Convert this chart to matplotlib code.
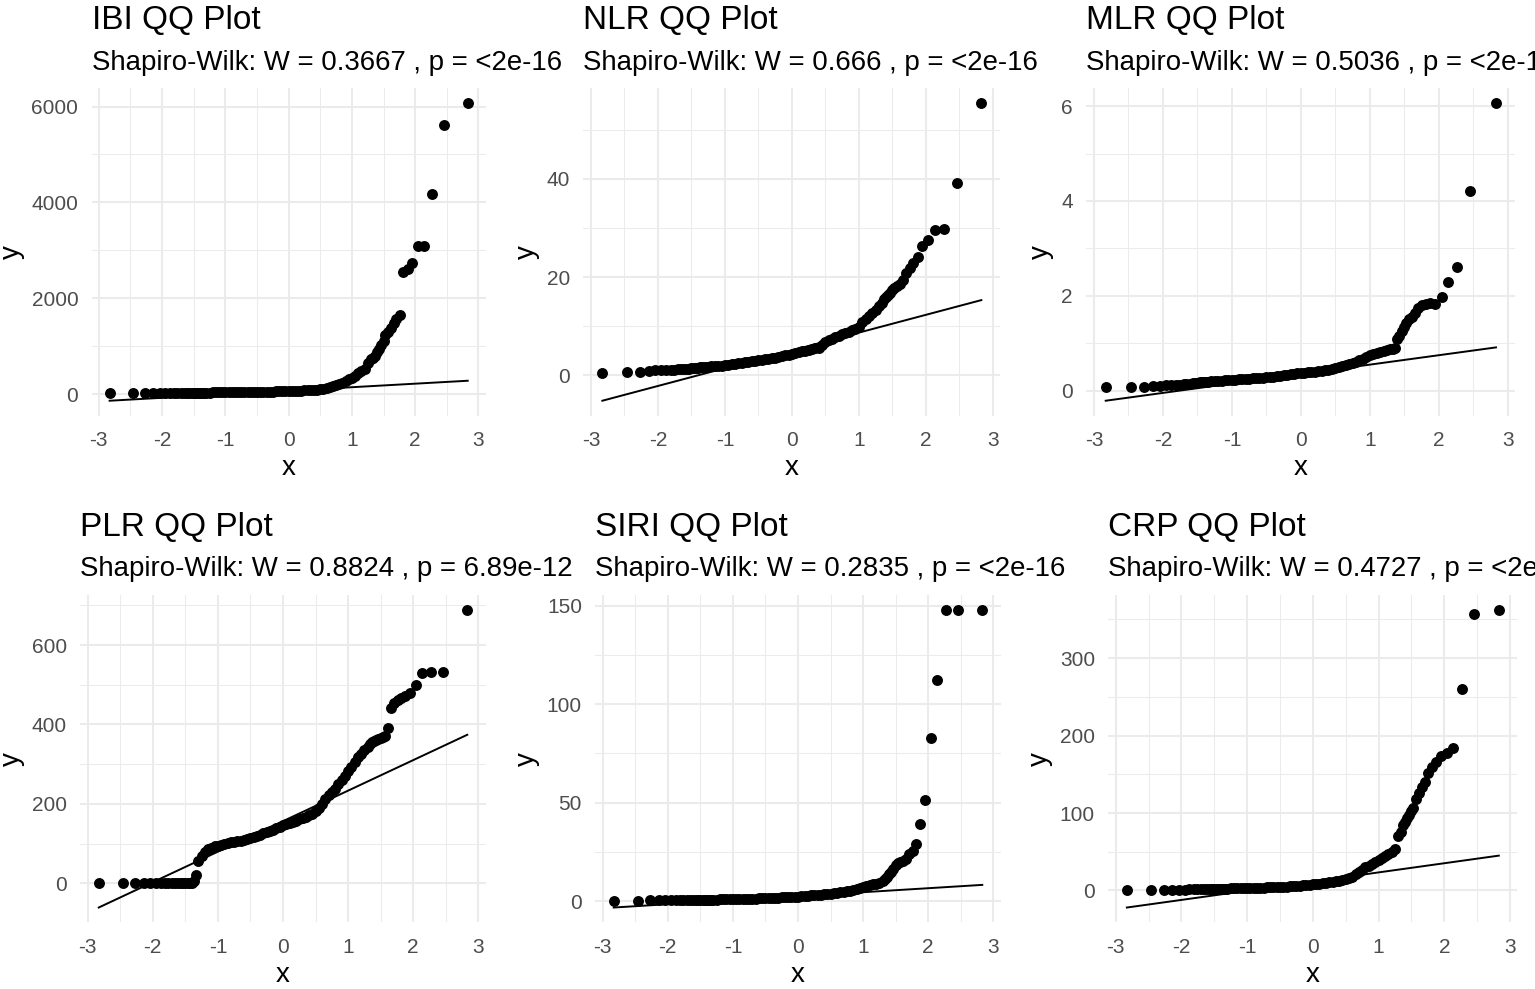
import matplotlib
matplotlib.use("Agg")
import matplotlib.pyplot as plt
from matplotlib.ticker import MultipleLocator

plt.rcParams['font.family'] = ['Liberation Sans', 'DejaVu Sans']
plt.rcParams['axes.unicode_minus'] = False

# ---------------- data ----------------
# theoretical normal quantiles (shared by all panels)
theo_x = [-2.83, -2.46, -2.27, -2.14, -2.04, -1.95, -1.88, -1.81, -1.76, -1.70,
          -1.66, -1.61, -1.57, -1.53, -1.50, -1.46, -1.43, -1.40, -1.37, -1.34,
          -1.30, -1.25, -1.20, -1.15, -1.10, -1.05, -1.00, -0.95, -0.90, -0.85,
          -0.80, -0.75, -0.70, -0.65, -0.60, -0.55, -0.50, -0.45, -0.40, -0.35,
          -0.30, -0.25, -0.20, -0.15, -0.10, -0.05, 0.00, 0.05, 0.10, 0.15,
          0.20, 0.25, 0.30, 0.35, 0.40, 0.45, 0.50, 0.55, 0.60, 0.65,
          0.70, 0.75, 0.80, 0.85, 0.90, 0.95, 1.00, 1.05, 1.10, 1.15,
          1.20, 1.25, 1.30,
          1.34, 1.37, 1.40, 1.43, 1.46, 1.50, 1.53, 1.57, 1.61, 1.66,
          1.70, 1.76, 1.81, 1.88, 1.95, 2.04, 2.14, 2.27, 2.46, 2.83]

ibi_y = [15, 18, 20, 22, 22, 23, 24, 25, 25, 26, 26, 27, 27, 28, 28, 28, 29, 29, 30, 30,
         31, 32, 33, 34, 35, 36, 37, 38, 39, 40, 41, 42, 43, 44, 45, 46, 47, 48, 49, 50,
         51, 53, 54, 56, 58, 60, 62, 64, 66, 69, 72, 75, 79, 83, 88, 94, 100,
         110, 122, 140, 160, 185, 210, 240, 275, 310, 345, 385, 430, 475, 530, 640, 730,
         760, 800, 880, 940, 1020, 1100, 1230, 1290, 1370, 1480, 1560, 1640,
         2558, 2607, 2732, 3080, 3100, 4171, 5617, 6069]

nlr_y = [0.5, 0.7, 0.7, 0.9, 1.0, 1.0, 1.05, 1.1, 1.15, 1.2, 1.2, 1.25, 1.3, 1.35, 1.4,
         1.45, 1.5, 1.55, 1.6, 1.65,
         1.7, 1.75, 1.8, 1.85, 1.9, 1.95, 2.0, 2.1, 2.2, 2.3, 2.4, 2.5, 2.6, 2.7, 2.8, 2.9,
         3.0, 3.1, 3.2, 3.3, 3.45, 3.6, 3.75, 3.9, 4.05, 4.2, 4.4, 4.55, 4.7, 4.85, 5.0,
         5.15, 5.3, 5.45, 5.6, 6.2, 6.8, 7.1, 7.4, 7.7, 8.0, 8.3, 8.6, 8.9, 9.2, 9.5, 9.8,
         10.8, 11.5, 12.0, 12.6, 13.2, 14.2,
         14.8, 15.5, 16.0, 16.4, 16.8, 17.3, 17.7, 18.1, 18.6, 19.4, 20.8, 21.8, 22.8,
         24.1, 26.4, 27.6, 29.6, 29.7, 39.1, 55.4]

mlr_y = [0.07, 0.07, 0.085, 0.10, 0.10, 0.11, 0.115, 0.12, 0.125, 0.13, 0.14, 0.145,
         0.15, 0.16, 0.165, 0.17, 0.175, 0.18, 0.185, 0.19,
         0.195, 0.20, 0.205, 0.21, 0.215, 0.22, 0.225, 0.23, 0.235, 0.24, 0.245, 0.25,
         0.255, 0.26, 0.265, 0.27, 0.28, 0.285, 0.295, 0.30, 0.31, 0.32, 0.33, 0.34,
         0.35, 0.36, 0.37, 0.375, 0.385, 0.39, 0.40, 0.41, 0.42, 0.43, 0.44, 0.45,
         0.47, 0.49, 0.51, 0.53, 0.55, 0.58, 0.61, 0.64, 0.67, 0.70, 0.74, 0.77, 0.79,
         0.81, 0.84, 0.86, 0.87,
         0.88, 0.90, 1.08, 1.16, 1.26, 1.34, 1.42, 1.50, 1.56, 1.64, 1.74, 1.80, 1.83,
         1.84, 1.83, 1.97, 2.28, 2.60, 4.21, 6.06]

plr_y = [0, 0, 0, 0, 0, 0, 0, 0, 0, 0, 0, 0, 0, 0, 0, 0, 0, 0, 5, 22,
         55, 70, 80, 86, 90, 93, 95, 97, 99, 101, 103, 104, 106, 107, 109, 111, 114,
         116, 119, 122, 126, 129, 132, 135, 138, 142, 146, 149, 152, 155, 158, 161,
         164, 167, 171, 175, 181, 190, 200, 213, 222, 229, 238, 249, 260, 271, 282,
         294, 306, 317, 326, 336, 344,
         352, 356, 358, 360, 363, 366, 369, 372, 392, 442, 455, 461, 466, 472, 480,
         500, 529, 533, 533, 688]

siri_y = [0.2, 0.25, 0.3, 0.35, 0.4, 0.42, 0.45, 0.48, 0.5, 0.52, 0.54, 0.56, 0.58,
          0.6, 0.62, 0.64, 0.66, 0.68, 0.7, 0.72,
          0.74, 0.77, 0.8, 0.83, 0.86, 0.9, 0.94, 0.98, 1.02, 1.06, 1.1, 1.15, 1.2,
          1.25, 1.3, 1.35, 1.4, 1.45, 1.5, 1.6, 1.7, 1.8, 1.9, 2.0, 2.1, 2.2, 2.3, 2.4,
          2.55, 2.7, 2.85, 3.0, 3.15, 3.3, 3.45, 3.6, 3.8, 4.0, 4.2, 4.4, 4.6, 4.9, 5.2,
          5.6, 6.0, 6.6, 7.2, 7.7, 8.1, 8.4, 8.7, 9.2, 10.2,
          11.0, 12.0, 13.5, 14.5, 16.5, 18.5, 19.5, 20.0, 20.5, 21.5, 24.0, 25.5, 28.8,
          39.1, 51.3, 82.6, 112.3, 147.8, 147.8, 147.8]

crp_y = [1, 1, 1, 1, 1.1, 1.2, 1.3, 1.4, 1.5, 1.5, 1.6, 1.7, 1.8, 1.9, 2.0, 2.0, 2.1,
         2.2, 2.3, 2.4,
         2.5, 2.6, 2.7, 2.8, 2.9, 3.0, 3.1, 3.2, 3.3, 3.4, 3.5, 3.7, 3.9, 4.1, 4.3, 4.5,
         4.7, 4.9, 5.1, 5.4, 5.7, 6.0, 6.4, 6.8, 7.2, 7.6, 8.0, 8.5, 9.0, 9.5, 10.0,
         10.6, 11.2, 11.8, 12.5, 13.3, 14.2, 15.5, 18, 21, 24, 27, 30, 32, 34, 37, 40,
         42, 45, 47, 50, 54, 70,
         76, 84, 88, 94, 98, 102, 106, 118, 126, 134, 140, 152, 160, 166, 174, 178, 184,
         260, 357, 362]

# reference-line end values (at the first and last theoretical quantile)
ibi_line = [-139, 278]
nlr_line = [-5.2, 15.3]
mlr_line = [-0.215, 0.91]
plr_line = [-61, 374]
siri_line = [-3.3, 8.2]
crp_line = [-22, 45]

panel_names = ["IBI", "NLR", "MLR", "PLR", "SIRI", "CRP"]
w_stats = ["0.3667", "0.666", "0.5036", "0.8824", "0.2835", "0.4727"]
p_vals = ["<2e-16", "<2e-16", "<2e-16", "6.89e-12", "<2e-16", "<2e-16"]
x_ticks = [-3, -2, -1, 0, 1, 2, 3]
y_ticks = [[0, 2000, 4000, 6000], [0, 20, 40], [0, 2, 4, 6],
           [0, 200, 400, 600], [0, 50, 100, 150], [0, 100, 200, 300]]
series = [ibi_y, nlr_y, mlr_y, plr_y, siri_y, crp_y]
lines = [ibi_line, nlr_line, mlr_line, plr_line, siri_line, crp_line]

# ---------------- layout ----------------
W, H = 1535, 989
fig = plt.figure(figsize=(W / 100, H / 100), dpi=100)

# panel rectangles in pixels: left, top, right, bottom
rects = [(91.7, 88.4, 485.6, 415.6), (583.4, 88.4, 1000.3, 415.6),
         (1086.2, 88.4, 1515.5, 415.6), (80.3, 595.2, 485.7, 922.4),
         (595.3, 595.2, 1000.7, 922.4), (1108.3, 595.2, 1517.4, 922.4)]
title_base = [29.3, 29.3, 29.3, 535.7, 535.7, 535.7]
sub_base = [70.0, 70.0, 70.0, 575.7, 575.7, 575.7]

grid_col = '#EBEBEB'
tick_col = '#4D4D4D'

for i in range(6):
    l, t, r, b = rects[i]
    ax = fig.add_axes([l / W, 1 - b / H, (r - l) / W, (b - t) / H])
    ys = series[i]
    ax.scatter(theo_x, ys, s=62, c='black', linewidths=0, zorder=3)
    ax.plot([theo_x[0], theo_x[-1]], lines[i], color='black', lw=1.4, zorder=4)
    ax.set_xticks(x_ticks)
    ax.set_yticks(y_ticks[i])
    ax.xaxis.set_minor_locator(MultipleLocator(0.5))
    ystep = y_ticks[i][1] - y_ticks[i][0]
    ax.yaxis.set_minor_locator(MultipleLocator(ystep / 2))
    ax.grid(which='major', color=grid_col, lw=1.5)
    ax.grid(which='minor', color=grid_col, lw=0.75)
    ax.set_axisbelow(True)
    for s in ax.spines.values():
        s.set_visible(False)
    ax.tick_params(which='both', length=0)
    ax.tick_params(axis='x', pad=11.2, labelsize=15, labelcolor=tick_col)
    ax.tick_params(axis='y', pad=9.6, labelsize=15, labelcolor=tick_col)
    ax.set_xlabel('x', fontsize=20, labelpad=3.6)
    ax.set_ylabel('y', fontsize=20, labelpad=4.8)

    fig.text(l / W, 1 - title_base[i] / H, f"{panel_names[i]} QQ Plot",
             fontsize=24, ha='left', va='baseline', color='black')
    fig.text(l / W, 1 - sub_base[i] / H,
             f"Shapiro-Wilk: W = {w_stats[i]} , p = {p_vals[i]}",
             fontsize=19.9, ha='left', va='baseline', color='black')

fig.savefig('out.png', dpi=100, facecolor='white')
